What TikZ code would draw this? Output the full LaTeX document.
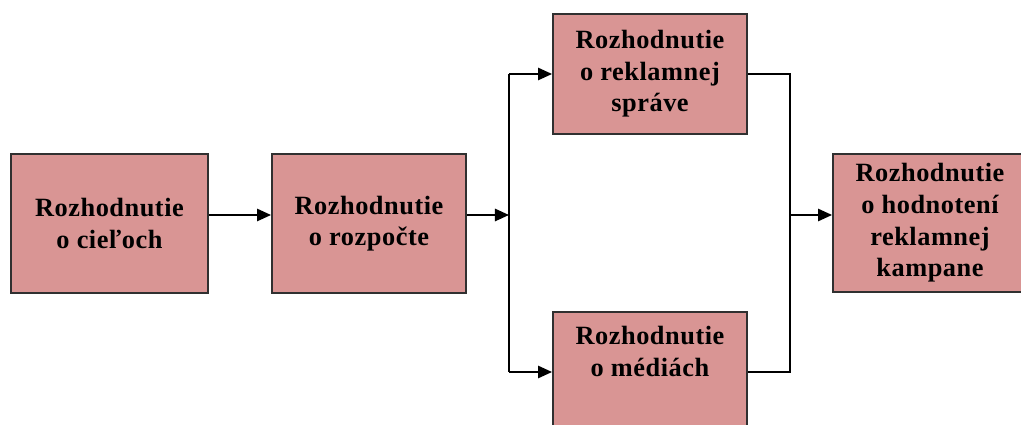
\documentclass[tikz,border=0pt]{standalone}
\usepackage{fontspec}
\setmainfont{Liberation Serif}[LetterSpace=2]
\usetikzlibrary{arrows.meta}
\definecolor{boxpink}{HTML}{D99594}
\definecolor{boxline}{HTML}{303030}

\tikzset{
  decision/.style={draw=boxline, line width=1.1pt, fill=boxpink, align=center,
    font=\fontsize{15}{18}\selectfont\bfseries, inner sep=2pt},
  flow/.style={line width=1.1pt, -{Triangle[length=8pt,width=7pt]}},
  link/.style={line width=0.6pt}
}

\begin{document}
\begin{tikzpicture}[x=0.02cm, y=-0.02cm]
  \useasboundingbox (0,0) rectangle (1021,425);
  \clip (0,0) rectangle (1021,425);

  \node[decision, minimum width=3.94cm, minimum height=2.78cm] (ciele) at (109.5,223.5) {Rozhodnutie\\o cieľoch};
  \node[decision, minimum width=3.88cm, minimum height=2.78cm] (rozpocet) at (369,223.5) {Rozhodnutie\\o rozpočte};
  \node[decision, minimum width=3.88cm, minimum height=2.4cm] (sprava) at (650,74) {Rozhodnutie\\o reklamnej\\správe};
  \node[decision, minimum width=3.88cm, minimum height=2.4cm] (media) at (650,372) {Rozhodnutie\\o médiách\\\strut};
  \node[decision, minimum width=3.88cm, minimum height=2.76cm] (hodnotenie) at (930,223) {Rozhodnutie\\o hodnotení\\reklamnej\\kampane};

  \coordinate (split) at (509,215);
  \coordinate (merge) at (790,215);

  \draw[flow] (ciele.east |- split) -- (rozpocet.west |- split);
  \draw[flow] (rozpocet.east |- split) -- (split);
  \draw[line width=1.1pt] (split |- sprava.west) -- (split |- media.west);
  \draw[flow] (split |- sprava.west) -- (sprava.west);
  \draw[flow] (split |- media.west) -- (media.west);
  \draw[link] (sprava.east) -| (merge) |- (media.east);
  \draw[flow] (merge) -- (hodnotenie.west |- merge);

\end{tikzpicture}
\end{document}
